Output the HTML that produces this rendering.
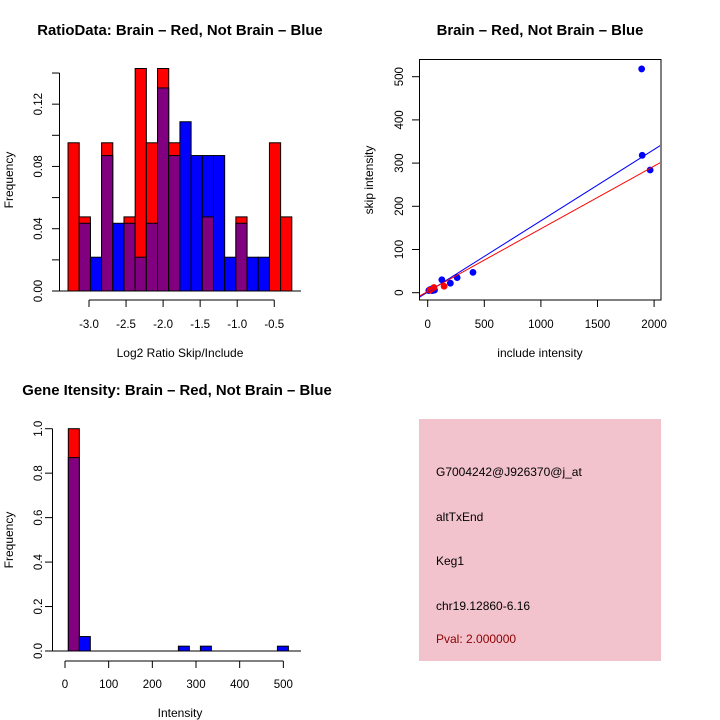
<!DOCTYPE html>
<html><head><meta charset="utf-8"><style>
html,body{margin:0;padding:0;background:#fff;}
svg{display:block;font-family:"Liberation Sans",sans-serif;}
</style></head><body>
<svg id="c" width="720" height="720" viewBox="0 0 720 720" xmlns="http://www.w3.org/2000/svg">
<rect x="0" y="0" width="720" height="720" fill="#fff"/>
<text x="180" y="35" font-size="14.9" font-weight="bold" text-anchor="middle">RatioData: Brain – Red, Not Brain – Blue</text>
<text x="540" y="35" font-size="14.9" font-weight="bold" text-anchor="middle">Brain – Red, Not Brain – Blue</text>
<text x="177" y="395" font-size="14.9" font-weight="bold" text-anchor="middle">Gene Itensity: Brain – Red, Not Brain – Blue</text>
<text x="180" y="357" font-size="12" text-anchor="middle">Log2 Ratio Skip/Include</text>
<text transform="translate(13,180) rotate(-90)" font-size="12" text-anchor="middle">Frequency</text>
<text x="540" y="357" font-size="12" text-anchor="middle">include intensity</text>
<text transform="translate(373,180) rotate(-90)" font-size="12" text-anchor="middle">skip intensity</text>
<text x="180" y="717" font-size="12" text-anchor="middle">Intensity</text>
<text transform="translate(13,540) rotate(-90)" font-size="12" text-anchor="middle">Frequency</text>
<g>
<rect x="419" y="419" width="242" height="242" fill="#f2c3cd"/>
<text x="436" y="476" font-size="12">G7004242@J926370@j_at</text>
<text x="436" y="521" font-size="12">altTxEnd</text>
<text x="436" y="565" font-size="12">Keg1</text>
<text x="436" y="610" font-size="12">chr19.12860-6.16</text>
<text x="436" y="643" font-size="12" fill="#8b0000">Pval: 2.000000</text>
</g>
</svg>
<script>
// ---- Ratio histogram data ----
const ratioRed  = [0.0952,0.0476,0,0.0952,0,0.0476,0.1429,0.0952,0.1429,0.0952,0,0,0.0476,0,0,0.0476,0,0,0.0952,0.0476];
const ratioBlue = [0,0.0435,0.0217,0.087,0.0435,0.0435,0.0217,0.0435,0.1304,0.087,0.1087,0.087,0.087,0.087,0.0217,0.0435,0.0217,0.0217,0,0];
const ratioBinStart = -3.283;
const ratioBinWidth = 0.151;
const ratioXTicks = [-3.0,-2.5,-2.0,-1.5,-1.0,-0.5];
const ratioXTickLabels = ["-3.0","-2.5","-2.0","-1.5","-1.0","-0.5"];
const ratioYTicks = [0,0.02,0.04,0.06,0.08,0.10,0.12,0.14];
const ratioYTickLabels = ["0.00","","0.04","","0.08","","0.12",""];
// ---- Scatter data ----
const blueX = [1890,1895,1965,400,260,200,125,50,30,10,20,40,60];
const blueY = [518,318,284,47,35,22,30,10,8,5,7,5,6];
const redX = [145,55,20];
const redY = [15,12,6];
const fitBlue = [1.5,0.165]; // intercept, slope
const fitRed = [3,0.145];
const scXTicks = [0,500,1000,1500,2000];
const scYTicks = [0,100,200,300,400,500];
// ---- Intensity histogram data ----
const intRed  = [1.0,0,0,0,0,0,0,0,0,0,0,0,0,0,0,0,0,0,0,0,0];
const intBlue = [0.87,0.065,0,0,0,0,0,0,0,0,0.0217,0,0.0217,0,0,0,0,0,0,0.0217,0];
const intBinStart = 7.6;
const intBinWidth = 25.2;
const intXTicks = [0,100,200,300,400,500];
const intYTicks = [0,0.2,0.4,0.6,0.8,1.0];
const intYTickLabels = ["0.0","0.2","0.4","0.6","0.8","1.0"];

const svg = document.getElementById('c');
const NS = 'http://www.w3.org/2000/svg';
function mk(tag, attrs){const e=document.createElementNS(NS,tag);for(const k in attrs)e.setAttribute(k,attrs[k]);svg.appendChild(e);return e;}

const rx = v => 89 + (v + 3.0) * 74.1;
const ry = v => 291 - v * 1557;
const ix = v => 65 + v * 0.4367;
const iy = v => 651 - v * 222.3;
const sx = v => 427.7 + v * 0.1132;
const sy = v => 292.7 - v * 0.432;

function hist(red, blue, start, width, X, Y, prefix){
  for(let i=0;i<red.length;i++){
    const x0=X(start+i*width), x1=X(start+(i+1)*width);
    const r=red[i], b=blue[i];
    const hi=Math.max(r,b), lo=Math.min(r,b);
    if(hi>0){
      const el=mk('rect',{x:x0,y:Y(hi),width:x1-x0,height:Y(0)-Y(hi),fill:r>b?'#ff0000':'#0000ff',stroke:'#000','stroke-width':1});
      
      
    }
    if(lo>0){
      const el=mk('rect',{x:x0,y:Y(lo),width:x1-x0,height:Y(0)-Y(lo),fill:'#800080',stroke:'#000','stroke-width':1});
      
      
    }
  }
}

hist(ratioRed, ratioBlue, ratioBinStart, ratioBinWidth, rx, ry, 'ratio');
let e;
e=mk('line',{x1:52,x2:301,y1:ry(0),y2:ry(0),stroke:'#000'});


e=mk('line',{x1:rx(ratioXTicks[0]),x2:rx(ratioXTicks[ratioXTicks.length-1]),y1:300,y2:300,stroke:'#000'});


ratioXTicks.forEach((t,i)=>{
  e=mk('line',{x1:rx(t),x2:rx(t),y1:300,y2:307,stroke:'#000'});
  
  
  e=mk('text',{x:rx(t),y:328,'font-size':11.5,'text-anchor':'middle'});
  e.textContent=ratioXTickLabels[i];
  
  
});
e=mk('line',{x1:59.5,x2:59.5,y1:ry(0),y2:ry(0.14),stroke:'#000'});


ratioYTicks.forEach((t,i)=>{
  e=mk('line',{x1:52,x2:59.5,y1:ry(t),y2:ry(t),stroke:'#000'});
  
  
  if(ratioYTickLabels[i]){
    e=mk('text',{transform:'translate(42,'+ry(t)+') rotate(-90)','font-size':11.5,'text-anchor':'middle'});
    e.textContent=ratioYTickLabels[i];
    
    
  }
});

hist(intRed, intBlue, intBinStart, intBinWidth, ix, iy, 'intensity');
e=mk('line',{x1:52,x2:301,y1:iy(0),y2:iy(0),stroke:'#000'});


e=mk('line',{x1:ix(0),x2:ix(500),y1:661,y2:661,stroke:'#000'});


intXTicks.forEach(t=>{
  e=mk('line',{x1:ix(t),x2:ix(t),y1:661,y2:668,stroke:'#000'});
  
  
  e=mk('text',{x:ix(t),y:688,'font-size':11.5,'text-anchor':'middle'});
  e.textContent=String(t);
  
  
});
e=mk('line',{x1:52.5,x2:52.5,y1:iy(0),y2:iy(1),stroke:'#000'});


intYTicks.forEach((t,i)=>{
  e=mk('line',{x1:45,x2:52.5,y1:iy(t),y2:iy(t),stroke:'#000'});
  
  
  e=mk('text',{transform:'translate(42,'+iy(t)+') rotate(-90)','font-size':11.5,'text-anchor':'middle'});
  e.textContent=intYTickLabels[i];
  
  
});

e=mk('rect',{x:419.5,y:59.5,width:241.5,height:240.5,fill:'none',stroke:'#000'});


const cp=mk('clipPath',{id:'scclip'});
const cr=document.createElementNS(NS,'rect');
cr.setAttribute('x',420);cr.setAttribute('y',60);cr.setAttribute('width',240);cr.setAttribute('height',240);
cp.appendChild(cr);
blueX.forEach((v,i)=>{
  e=mk('circle',{cx:sx(v),cy:sy(blueY[i]),r:3.4,fill:'#0000ff'});
  
  
});
redX.forEach((v,i)=>{
  e=mk('circle',{cx:sx(v),cy:sy(redY[i]),r:3.4,fill:'#ff0000'});
  
  
});
[[fitBlue,'#0000ff','blue'],[fitRed,'#ff0000','red']].forEach(([f,c,n])=>{
  const xa=-100, xb=2100;
  e=mk('line',{x1:sx(xa),y1:sy(f[0]+f[1]*xa),x2:sx(xb),y2:sy(f[0]+f[1]*xb),stroke:c,'stroke-width':1,'clip-path':'url(#scclip)'});
  
  
});
scXTicks.forEach(t=>{
  e=mk('line',{x1:sx(t),x2:sx(t),y1:300,y2:307,stroke:'#000'});
  
  
  e=mk('text',{x:sx(t),y:328,'font-size':11.5,'text-anchor':'middle'});
  e.textContent=String(t);
  
  
});
scYTicks.forEach(t=>{
  e=mk('line',{x1:412,x2:419.5,y1:sy(t),y2:sy(t),stroke:'#000'});
  
  
  e=mk('text',{transform:'translate(403,'+sy(t)+') rotate(-90)','font-size':11.5,'text-anchor':'middle'});
  e.textContent=String(t);
  
  
});
</script>
</body></html>
